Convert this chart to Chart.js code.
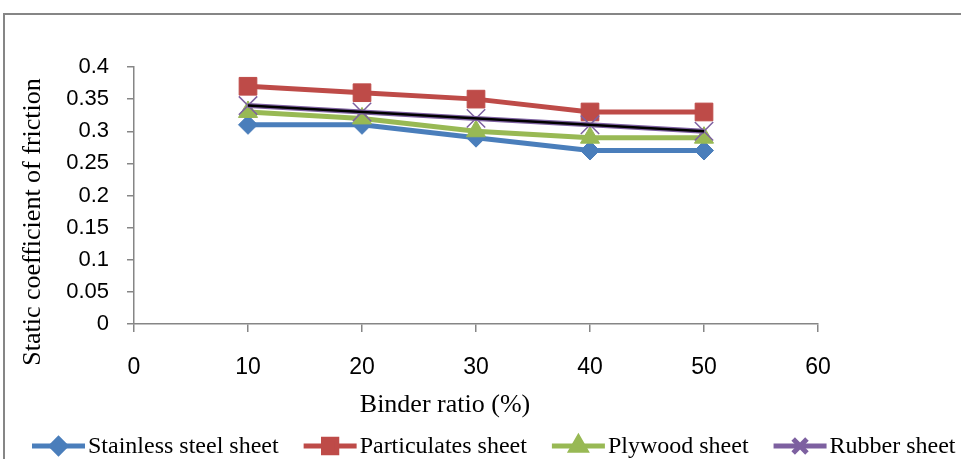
<!DOCTYPE html>
<html>
<head>
<meta charset="utf-8">
<script src="https://cdn.jsdelivr.net/npm/chart.js@4"></script>
<style>
html,body{margin:0;padding:0;background:#fff;}
#wrap{width:961px;height:459px;position:relative;}
</style>
</head>
<body>
<div id="wrap"><canvas id="c" width="961" height="459"></canvas></div>
<script>
const binderRatio = [10, 20, 30, 40, 50];
const stainlessSteel = [0.31, 0.31, 0.29, 0.27, 0.27];
const particulates = [0.37, 0.36, 0.35, 0.33, 0.33];
const plywood = [0.33, 0.32, 0.30, 0.29, 0.29];
const rubber = [0.34, 0.33, 0.32, 0.31, 0.30];
const seriesNames = ['Stainless steel sheet', 'Particulates sheet', 'Plywood sheet', 'Rubber sheet'];
const xTicks = [0, 10, 20, 30, 40, 50, 60];
const yTicks = [0, 0.05, 0.1, 0.15, 0.2, 0.25, 0.3, 0.35, 0.4];
const xTitle = 'Binder ratio (%)';
const yTitle = 'Static coefficient of friction';

function pts(ys) { return binderRatio.map((x, i) => ({x: x, y: ys[i]})); }

// linear trendline of the rubber series (least squares)
function trend(ys) {
  const n = binderRatio.length;
  const mx = binderRatio.reduce((a, b) => a + b, 0) / n;
  const my = ys.reduce((a, b) => a + b, 0) / n;
  let sxy = 0, sxx = 0;
  for (let i = 0; i < n; i++) { sxy += (binderRatio[i] - mx) * (ys[i] - my); sxx += (binderRatio[i] - mx) ** 2; }
  const b = sxy / sxx, a = my - b * mx;
  const x0 = binderRatio[0], x1 = binderRatio[n - 1];
  return [{x: x0, y: a + b * x0}, {x: x1, y: a + b * x1}];
}

const BLUE = '#4A7EBB', RED = '#BE4B48', GREEN = '#98B954', PURPLE = '#7D60A0', AXIS = '#868686';
const serif = "'Liberation Serif', 'Times New Roman', serif";
const sans = "'Liberation Sans', Arial, sans-serif";

const styles = [
  {color: BLUE, pointStyle: 'rectRot', radius: 9.5, bw: 1},
  {color: RED, pointStyle: 'rect', radius: 12.5, bw: 1},
  {color: GREEN, pointStyle: 'triangle', radius: 11, bw: 1},
  {color: PURPLE, pointStyle: 'crossRot', radius: 13, bw: 1.5}
];
const seriesData = [stainlessSteel, particulates, plywood, rubber];

const datasets = seriesData.map((d, i) => ({
  label: seriesNames[i],
  data: pts(d),
  borderColor: styles[i].color,
  backgroundColor: styles[i].color,
  pointBorderColor: styles[i].color,
  pointBackgroundColor: styles[i].color,
  borderWidth: 5,
  pointStyle: styles[i].pointStyle,
  pointRadius: styles[i].radius,
  pointBorderWidth: styles[i].bw,
  tension: 0,
  order: 4 - i
}));
datasets.push({
  label: 'Linear (Rubber sheet)',
  data: trend(rubber),
  borderColor: '#000',
  borderWidth: 2.5,
  pointRadius: 0,
  tension: 0,
  order: 0
});

const framePlugin = {
  id: 'frame',
  beforeDraw(chart) {
    const ctx = chart.ctx;
    ctx.save();
    ctx.fillStyle = '#fff';
    ctx.fillRect(0, 0, chart.width, chart.height);
    ctx.strokeStyle = AXIS;
    ctx.lineWidth = 2;
    ctx.strokeRect(4, 14, 1000, 600);
    ctx.restore();
  }
};

const titlesPlugin = {
  id: 'axisTitles',
  afterDraw(chart) {
    const ctx = chart.ctx;
    ctx.save();
    ctx.fillStyle = '#000';
    ctx.font = '26px ' + serif;
    ctx.textAlign = 'center';
    ctx.textBaseline = 'middle';
    ctx.fillText(xTitle, 445, 405);
    ctx.translate(33, 222);
    ctx.rotate(-Math.PI / 2);
    ctx.fillText(yTitle, 0, 0);
    ctx.restore();
  }
};

const legendPlugin = {
  id: 'customLegend',
  afterDraw(chart) {
    const ctx = chart.ctx;
    ctx.save();
    ctx.font = '24px ' + serif;
    ctx.textBaseline = 'middle';
    const y = 446;
    let x = 32;
    for (let i = 0; i < 4; i++) {
      const st = styles[i];
      ctx.strokeStyle = st.color;
      ctx.lineWidth = 5;
      ctx.beginPath();
      ctx.moveTo(x, y);
      ctx.lineTo(x + 53, y);
      ctx.stroke();
      ctx.fillStyle = st.color;
      Chart.helpers.drawPoint(ctx, {pointStyle: st.pointStyle, radius: st.radius * 0.75, borderWidth: st.bw, rotation: 0}, x + 26.5, y);
      ctx.fillStyle = '#000';
      ctx.fillText(seriesNames[i], x + 56, y + 1);
      x += 56 + ctx.measureText(seriesNames[i]).width + 25;
    }
    ctx.restore();
  }
};

new Chart(document.getElementById('c'), {
  type: 'line',
  data: {datasets: datasets},
  plugins: [framePlugin, titlesPlugin, legendPlugin],
  options: {
    responsive: false,
    animation: false,
    layout: {padding: {left: 0, right: 143, top: 67, bottom: 0}},
    plugins: {legend: {display: false}, tooltip: {enabled: false}},
    scales: {
      x: {
        type: 'linear',
        min: 0, max: 60,
        afterBuildTicks(s) { s.ticks = xTicks.map(v => ({value: v})); },
        afterFit(s) { s.height = 135; },
        border: {display: true, color: AXIS, width: 1.5},
        grid: {display: true, drawOnChartArea: false, drawTicks: true, tickLength: 8, color: AXIS, lineWidth: 1.5},
        ticks: {color: '#000', font: {family: sans, size: 23}, padding: 22, maxRotation: 0},
        title: {display: false}
      },
      y: {
        type: 'linear',
        min: 0, max: 0.4,
        afterBuildTicks(s) { s.ticks = yTicks.map(v => ({value: v})); },
        afterFit(s) { s.width = 134; },
        border: {display: true, color: AXIS, width: 1.5},
        grid: {display: true, drawOnChartArea: false, drawTicks: true, tickLength: 7, color: AXIS, lineWidth: 1.5},
        ticks: {color: '#000', font: {family: sans, size: 22}, padding: 18, callback: v => String(Number(v.toFixed(2)))},
        title: {display: false}
      }
    }
  }
});
</script>
</body>
</html>
